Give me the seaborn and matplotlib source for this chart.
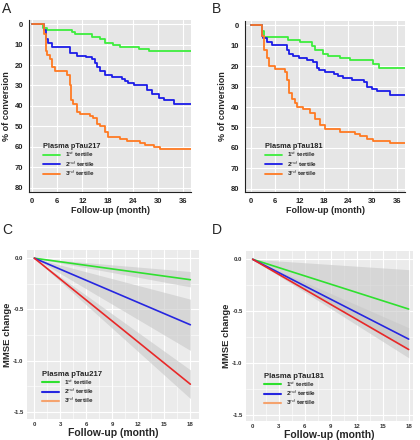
import numpy as np
import pandas as pd
import matplotlib
matplotlib.use("Agg")
import matplotlib.pyplot as plt
from matplotlib.lines import Line2D
import seaborn as sns

sns.set_theme(style="white")
plt.rcParams['font.family'] = ['Liberation Sans', 'DejaVu Sans']

# ---------------- data ----------------
# Panel A (Plasma pTau217) Kaplan-Meier % conversion, step points (month, %)
a_t1_x = [0, 2.7, 3.5, 9.5, 10.3, 14.3, 16.2, 17.4, 19.4, 21.0, 25.4, 27.8, 38]
a_t1_y = [0, 2, 3, 4, 5, 6, 7, 9, 10, 11, 12, 13, 13]
a_t2_x = [0, 2.9, 3.3, 3.8, 4.7, 9.1, 10.8, 13.0, 14.3, 15.0, 15.6, 16.2, 17.4, 19.0,
          21.4, 22.2, 23.0, 24.2, 27.4, 28.6, 30.2, 31.4, 33.8, 38]
a_t2_y = [0, 3, 7, 9, 11, 14, 15.5, 16, 17, 19, 21, 23, 25, 26,
          27, 28, 29, 30, 32, 34, 36, 37, 39, 39]
a_t3_x = [0, 2.9, 3.3, 3.6, 4.3, 4.7, 5.5, 8.3, 9.1, 9.3, 9.9, 10.7, 11.5, 13.9, 14.6,
          15.4, 16.2, 17.4, 18.2, 21.0, 22.6, 25.8, 27.0, 29.0, 30.6, 38]
a_t3_y = [0, 5, 13, 15, 17, 21, 23, 25, 30, 37, 39, 43, 44, 45, 46,
          49, 50, 53, 55, 56, 57, 58, 59, 60, 61, 61]

# Panel B (Plasma pTau181)
b_t1_x = [0, 2.7, 3.3, 9.3, 12.2, 15.0, 15.8, 17.9, 19.1, 22.0, 24.5, 30.2, 31.5, 38]
b_t1_y = [0, 3, 5.5, 7, 8, 10, 12, 14, 15, 16, 17, 19, 21, 21]
b_t2_x = [0, 2.7, 3.1, 3.9, 5.2, 8.9, 9.4, 10.5, 11.8, 13.8, 15.4, 16.3, 16.7, 18.3,
          20.4, 21.6, 22.8, 24.9, 27.8, 28.6, 29.8, 31.1, 34.3, 38]
b_t2_y = [0, 5, 6, 8, 9.5, 12, 14, 15, 16, 17, 18, 21, 22, 23,
          24, 25, 26, 27, 28, 30, 31, 32, 34, 34]
b_t3_x = [0, 2.7, 3.4, 3.9, 4.6, 6.0, 8.5, 9.0, 9.4, 10.1, 10.9, 11.5, 13.0, 14.6,
          15.9, 17.1, 18.3, 22.0, 25.7, 27.0, 28.6, 30.2, 34.3, 38]
b_t3_y = [0, 5, 12, 16, 20, 21.5, 23, 27, 33, 36, 38, 40, 41, 43,
          46, 49, 51, 52, 53, 54, 55.5, 56.5, 57.5, 57.5]

# Panels C/D: MMSE change, linear fits from 0 to 18 months with 95% CI at 18 months
fit_x = [0, 18]
c_mean = [-0.21, -0.65, -1.23]
c_lo = [-0.28, -0.90, -1.37]
c_hi = [-0.13, -0.40, -1.09]
d_mean = [-0.48, -0.77, -0.87]
d_lo = [-0.86, -0.88, -0.95]
d_hi = [-0.10, -0.66, -0.79]

tertiles = ["1$^{st}$ tertile", "2$^{nd}$ tertile", "3$^{rd}$ tertile"]
km_colors = ["#3ded3d", "#1c1ce8", "#ff7a22"]
fit_colors = ["#2fe02f", "#2626e0", "#e82828"]
legend_third = "#f5a36e"

# ---------------- figure ----------------
fig = plt.figure(figsize=(4.2, 4.4), dpi=100)

def km_panel(rect, curves, title, xlim, ylim, letter, letterpos, legx):
    ax = fig.add_axes(rect)
    ax.set_facecolor("#e6e6e6")
    for i, (xs, ys) in enumerate(curves):
        df = pd.DataFrame({"t": xs, "p": ys})
        sns.lineplot(data=df, x="t", y="p", ax=ax, color=km_colors[i], lw=1.3,
                     drawstyle="steps-post", estimator=None, sort=False,
                     label=tertiles[i])
    ax.set_xlim(*xlim)
    ax.set_ylim(*ylim)
    ax.set_xticks(range(0, 37, 6))
    ax.set_yticks(range(0, 81, 10))
    ax.set_xticks(range(0, 38, 3), minor=True)
    ax.set_yticks(range(0, 81, 5), minor=True)
    ax.grid(True, which="major", color="white", lw=0.8)
    ax.set_axisbelow(True)
    for s in ["top", "right"]:
        ax.spines[s].set_visible(False)
    for s in ["left", "bottom"]:
        ax.spines[s].set_color("#222222")
        ax.spines[s].set_linewidth(0.8)
    ax.tick_params(axis="both", which="major", direction="out", length=2.5, width=0.6,
                   labelsize=5.5, pad=1.5, colors="#222222")
    ax.tick_params(axis="both", which="minor", direction="out", length=1.5, width=0.5)
    for lab in ax.get_xticklabels() + ax.get_yticklabels():
        lab.set_fontweight("bold")
    ax.set_xlabel("Follow-up (month)", fontsize=6.5, fontweight="bold", labelpad=1)
    ax.set_ylabel("% of conversion", fontsize=6.5, fontweight="bold", labelpad=3)
    leg = ax.legend(title=title, loc="lower left", bbox_to_anchor=(legx, 0.08),
                    frameon=False, fontsize=4.6, title_fontsize=5.3,
                    handlelength=2.6, handletextpad=0.8, labelspacing=0.02,
                    borderaxespad=0, borderpad=0)
    leg.get_title().set_fontweight("bold")
    for t in leg.get_texts():
        t.set_fontweight("bold")
    leg._legend_box.align = "left"
    fig.text(letterpos[0], letterpos[1], letter, fontsize=10, ha="left", va="top")
    return ax

km_panel([29/420, 1-192/440, 162/420, 172/440],
         [(a_t1_x, a_t1_y), (a_t2_x, a_t2_y), (a_t3_x, a_t3_y)],
         "Plasma pTau217", (-0.7, 37.9), (82.2, -2.1), "A", (2/420, 1-2/440), 0.086)
km_panel([245/420, 1-192/440, 160/420, 171/440],
         [(b_t1_x, b_t1_y), (b_t2_x, b_t2_y), (b_t3_x, b_t3_y)],
         "Plasma pTau181", (-1.4, 38.0), (81.6, -2.1), "B", (212/420, 1-2/440), 0.125)

def fit_panel(rect, mean, lo, hi, title, xlim, ylim, letter, letterpos, legx):
    ax = fig.add_axes(rect)
    ax.set_facecolor("#ebebeb")
    xs = np.array(fit_x, dtype=float)
    for i in range(3):
        ax.fill_between(xs, [0, hi[i]], [0, lo[i]], color="#c8c8c8", alpha=0.6, lw=0)
    for i in range(3):
        df = pd.DataFrame({"t": fit_x, "m": [0, mean[i]]})
        sns.lineplot(data=df, x="t", y="m", ax=ax, color=fit_colors[i], lw=1.2,
                     estimator=None, sort=False)
    ax.set_xlim(*xlim)
    ax.set_ylim(*ylim)
    ax.set_xticks(range(0, 19, 3))
    ax.set_yticks([0.0, -0.5, -1.0, -1.5])
    ax.set_yticklabels(["0.0", "-0.5", "-1.0", "-1.5"])
    ax.set_xticks(np.arange(1.5, 18, 3), minor=True)
    ax.set_yticks([-0.25, -0.75, -1.25], minor=True)
    ax.grid(True, which="major", color="white", lw=0.8)
    ax.grid(True, which="minor", color="white", lw=0.4)
    ax.set_axisbelow(True)
    for s in ax.spines.values():
        s.set_visible(False)
    ax.tick_params(axis="both", which="major", direction="out", length=1.5, width=0.5,
                   labelsize=4.3, pad=1, colors="#333333")
    ax.tick_params(axis="both", which="minor", length=0)
    for lab in ax.get_xticklabels() + ax.get_yticklabels():
        lab.set_fontweight("bold")
    ax.set_xlabel("Follow-up (month)", fontsize=7.5, fontweight="bold", labelpad=0.5)
    ax.set_ylabel("MMSE change", fontsize=6.8, fontweight="bold", labelpad=1)
    handles = [Line2D([0], [0], color=c, lw=1.5) for c in [fit_colors[0], fit_colors[1], legend_third]]
    leg = ax.legend(handles, tertiles, title=title, loc="lower left",
                    bbox_to_anchor=(legx, 0.08), frameon=False, fontsize=4.6,
                    title_fontsize=5.6, handlelength=2.6, handletextpad=0.8,
                    labelspacing=0.02, borderaxespad=0, borderpad=0)
    leg.get_title().set_fontweight("bold")
    for t in leg.get_texts():
        t.set_fontweight("bold")
    leg._legend_box.align = "left"
    fig.text(letterpos[0], letterpos[1], letter, fontsize=10, ha="left", va="top")
    return ax

fit_panel([27/420, 21/440, 172/420, 169/440], c_mean, c_lo, c_hi, "Plasma pTau217",
          (-0.85, 19.0), (-1.57, 0.08), "C", (2/420, 1-223/440), 0.09)
fit_panel([246/420, 19/440, 167/420, 170/440], d_mean, d_lo, d_hi, "Plasma pTau181",
          (-0.77, 18.5), (-1.56, 0.08), "D", (212/420, 1-223/440), 0.11)

fig.savefig("out.png", dpi=100)
